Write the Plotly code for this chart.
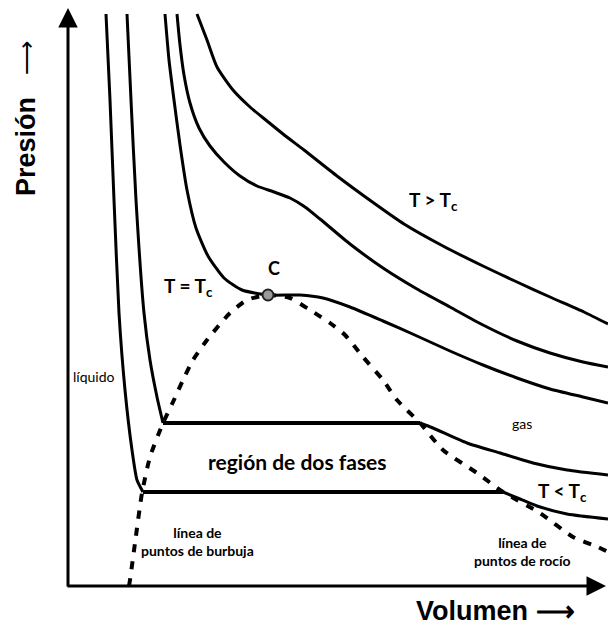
import plotly.graph_objects as go

# Schematic P-V diagram (volume / pressure in arbitrary units, origin at the axes corner)
# Isotherm 1 (T < Tc, lowest)
iso1_liq_v = [38, 42, 46, 51, 57, 64, 69, 75]
iso1_liq_p = [572, 486, 386, 273, 196, 136, 106, 94]
iso1_gas_v = [435, 452, 469, 499, 540]
iso1_gas_p = [94, 87, 80, 72, 67]

# Isotherm 2 (T < Tc)
iso2_liq_v = [59, 63, 68, 76, 82, 89, 95]
iso2_liq_p = [572, 486, 386, 273, 226, 189, 163]
iso2_gas_v = [352, 365, 399, 432, 465, 499, 540]
iso2_gas_p = [163, 158, 143, 133, 123, 116, 111]

# Critical isotherm (T = Tc)
isoc_v = [97, 101, 106, 112, 119, 128, 140, 156, 174, 200, 232, 255, 282, 315, 349, 382, 415, 449, 482, 515, 540]
isoc_p = [572, 526, 486, 441, 396, 358, 330, 308, 296, 291, 291, 288, 279, 265, 250, 235, 221, 208, 197, 189, 183]

# Isotherm 4 (T > Tc)
iso4_v = [109, 112, 116, 122, 131, 142, 156, 172, 189, 206, 222, 237, 252, 282, 315, 349, 382, 415, 449, 482, 515, 540]
iso4_p = [572, 541, 511, 483, 458, 440, 424, 410, 400, 394, 388, 379, 367, 342, 318, 297, 279, 261, 245, 233, 224, 219]

# Isotherm 5 (T > Tc, highest)
iso5_v = [129, 139, 149, 165, 182, 199, 215, 236, 269, 303, 336, 375, 415, 449, 482, 516, 540]
iso5_p = [572, 546, 519, 496, 479, 465, 452, 436, 410, 385, 362, 340, 320, 304, 289, 274, 262]

# Saturation dome (bubble-point line + dew-point line)
dome_v = [61, 62, 67, 74, 82, 95, 105, 115, 125, 139, 162, 179, 200, 222, 242, 262, 277, 295, 315, 329, 352, 375, 409, 435, 472, 505, 530, 540]
dome_p = [0, 6, 43, 93, 129, 163, 184, 206, 226, 246, 273, 286, 291, 288, 276, 263, 251, 229, 206, 186, 163, 136, 113, 94, 73, 49, 39, 34]

# Tie lines (two-phase region)
tie1_v = [75, 435]
tie1_p = [94, 94]
tie2_v = [95, 352]
tie2_p = [163, 163]

# Critical point
crit_v = [200]
crit_p = [291]

fig = go.Figure()

fig.add_trace(go.Scatter(x=dome_v, y=dome_p, mode="lines",
                         line=dict(color="black", width=4, dash="8px,9px", shape="spline", smoothing=0.6)))

for v, p in [(iso1_liq_v, iso1_liq_p), (iso1_gas_v, iso1_gas_p),
             (iso2_liq_v, iso2_liq_p), (iso2_gas_v, iso2_gas_p),
             (isoc_v, isoc_p), (iso4_v, iso4_p), (iso5_v, iso5_p)]:
    fig.add_trace(go.Scatter(x=v, y=p, mode="lines",
                             line=dict(color="black", width=3, shape="spline", smoothing=0.6)))

for v, p in [(tie1_v, tie1_p), (tie2_v, tie2_p)]:
    fig.add_trace(go.Scatter(x=v, y=p, mode="lines", line=dict(color="black", width=4)))

fig.add_trace(go.Scatter(x=crit_v, y=crit_p, mode="markers",
                         marker=dict(size=11, color="#9a9a9a", line=dict(color="#222", width=2))))

annotations = []
# Axes with arrow heads
annotations.append(dict(x=0, y=578, ax=0, ay=-2, xref="x", yref="y", axref="x", ayref="y",
                        showarrow=True, arrowhead=2, arrowsize=1.3, arrowwidth=3, arrowcolor="black", text=""))
annotations.append(dict(x=538, y=0, ax=-2, ay=0, xref="x", yref="y", axref="x", ayref="y",
                        showarrow=True, arrowhead=2, arrowsize=1.3, arrowwidth=3, arrowcolor="black", text=""))

def label(text, v, p, size, bold=False, family="Lato", angle=0):
    t = f"<b>{text}</b>" if bold else text
    annotations.append(dict(x=v, y=p, xref="x", yref="y", text=t, showarrow=False,
                            textangle=angle, xanchor="center", yanchor="middle",
                            font=dict(family=family, size=size, color="black")))

label("Presión", -42, 439, 27, bold=True, family="Liberation Sans", angle=-90)
label("⟶", -42, 528, 24, family="Liberation Sans", angle=-90)
label("Volumen ⟶", 427, -25, 27, bold=True, family="Liberation Sans")
label("T &gt; T<sub>c</sub>", 365, 385, 19, bold=True)
label("T = T<sub>c</sub>", 120, 299, 19, bold=True)
label("C", 206, 318, 18, bold=True)
label("T &lt; T<sub>c</sub>", 494, 94, 19, bold=True)
label("líquido", 26, 210, 14)
label("gas", 454, 163, 14)
label("región de dos fases", 229, 125, 21, bold=True)
label("línea de<br>puntos de burbuja", 129, 45, 14, bold=True)
label("línea de<br>puntos de rocío", 454, 35, 14, bold=True)

fig.update_layout(
    width=608, height=626,
    margin=dict(l=0, r=0, t=0, b=0),
    paper_bgcolor="white", plot_bgcolor="white",
    showlegend=False,
    xaxis=dict(range=[-68, 540], visible=False, fixedrange=True),
    yaxis=dict(range=[-40, 586], visible=False, fixedrange=True),
    annotations=annotations,
)

fig.write_html("out.html")
